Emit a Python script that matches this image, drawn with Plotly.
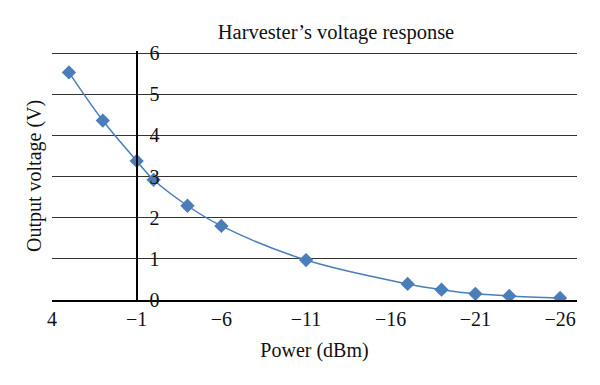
import plotly.graph_objects as go

power_dbm = [3, 1, -1, -2, -4, -6, -11, -17, -19, -21, -23, -26]
voltage_v = [5.53, 4.36, 3.38, 2.92, 2.29, 1.80, 0.97, 0.39, 0.25, 0.15, 0.10, 0.05]
x_ticks = [4, -1, -6, -11, -16, -21, -26]
y_ticks = [0, 1, 2, 3, 4, 5, 6]
x_range = [4, -27]
y_range = [0, 6.05]
y_cross = -1

blue = "#4A7EBB"
font_family = "Liberation Serif, DejaVu Serif, serif"

fig = go.Figure()
fig.add_trace(go.Scatter(
    x=power_dbm, y=voltage_v, mode="lines+markers",
    line=dict(color=blue, width=1.5, shape="spline", smoothing=1.0),
    marker=dict(symbol="diamond", size=11, color=blue),
    showlegend=False,
))

pos = (x_range[0] - y_cross) / (x_range[0] - x_range[1])

fig.update_layout(
    width=600, height=385,
    margin=dict(l=52, r=23, t=51, b=85),
    paper_bgcolor="white", plot_bgcolor="white",
    font=dict(family=font_family, size=20, color="#111"),
    title=dict(text="Harvester’s voltage response", x=0.56, xanchor="center",
               y=1 - 32 / 385, yanchor="middle", font=dict(size=20.5)),
    xaxis=dict(
        range=x_range, tickvals=x_ticks, showgrid=False, zeroline=False,
        showline=True, linecolor="#000", linewidth=1.5, ticks="",
        automargin=False,
        title=dict(text="Power (dBm)", standoff=14, font=dict(size=20)),
    ),
    yaxis=dict(
        range=y_range, tickvals=y_ticks, showgrid=True, gridcolor="#333",
        gridwidth=1.3, zeroline=False, showline=True, linecolor="#000",
        linewidth=1.5, ticks="", anchor="free", position=pos, side="right",
        ticklabelstandoff=8, automargin=False,
    ),
)

fig.add_annotation(
    text="Output voltage (V)", textangle=-90, xref="paper", yref="paper",
    x=-4 / 525, y=0.5, xanchor="right", yanchor="middle", showarrow=False,
    font=dict(size=20),
)

fig.write_html(
    "out.html",
    config={"displayModeBar": False},
    post_script="document.body.style.margin='0';document.body.style.overflow='hidden';",
)
